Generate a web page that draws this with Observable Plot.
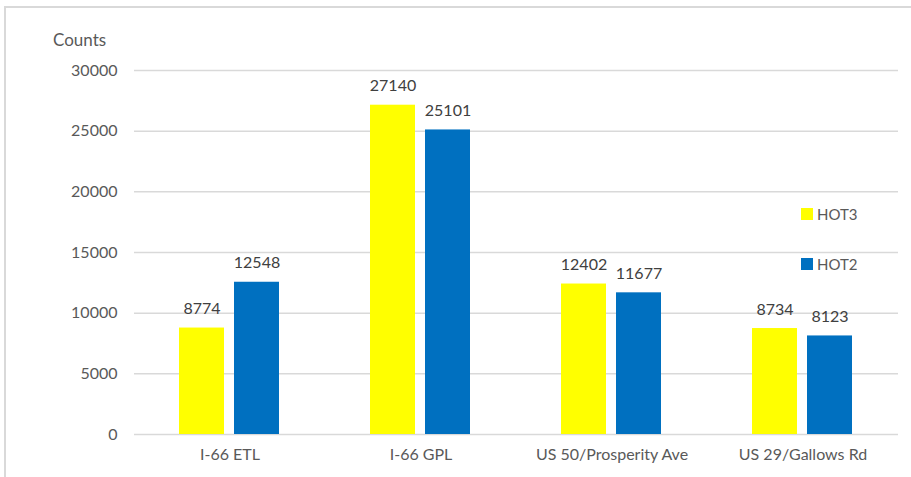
<!DOCTYPE html>
<html>
<head>
<meta charset="utf-8">
<script src="https://cdn.jsdelivr.net/npm/d3@7"></script>
<script src="https://cdn.jsdelivr.net/npm/@observablehq/plot@0.6"></script>
<style>
  html, body { margin: 0; padding: 0; background: #fff; }
  #wrap { position: relative; width: 911px; height: 477px; overflow: hidden; font-family: Lato, "Open Sans", sans-serif; }
  #frame { position: absolute; left: 4px; top: 6px; width: 920px; height: 480px; border-top: 2px solid #d9d9d9; border-left: 2px solid #d9d9d9; box-sizing: border-box; }
  #ylabel { position: absolute; left: 53px; top: 29px; font-size: 17px; color: #595959; }
  .leg { position: absolute; left: 801px; font-size: 15px; line-height: 18px; color: #595959; display: flex; align-items: center; }
  .sw { width: 12px; height: 12px; margin-right: 4px; }
  svg { position: absolute; left: 0; top: 0; }
</style>
</head>
<body>
<div id="wrap">
  <div id="frame"></div>
  <div id="chart"></div>
  <div id="ylabel">Counts</div>
  <div id="legend"></div>
</div>
<script>
const categories = ["I-66 ETL", "I-66 GPL", "US 50/Prosperity Ave", "US 29/Gallows Rd"];
const seriesNames = ["HOT3", "HOT2"];
const hot3 = [8774, 27140, 12402, 8734];
const hot2 = [12548, 25101, 11677, 8123];
const yTicks = [0, 5000, 10000, 15000, 20000, 25000, 30000];
const colors = ["#FFFF00", "#0070C0"];

const data = [];
categories.forEach((c, i) => {
  data.push({cat: c, series: "HOT3", value: hot3[i]});
  data.push({cat: c, series: "HOT2", value: hot2[i]});
});

const chart = Plot.plot({
  width: 911,
  height: 477,
  marginLeft: 134,
  marginRight: 13,
  marginTop: 70,
  marginBottom: 43,
  style: {fontSize: "16px", fontFamily: "Lato, 'Open Sans', sans-serif", color: "#595959", background: "transparent"},
  fx: {domain: categories, padding: 0, label: null, axis: "bottom", tickSize: 0, tickPadding: 14},
  x: {domain: seriesNames, paddingInner: 0.1818, paddingOuter: 0.825, axis: null},
  y: {domain: [0, 30000], ticks: yTicks, tickSize: 0, tickPadding: 17, label: null, tickFormat: d => String(d)},
  color: {domain: seriesNames, range: colors},
  marks: [
    Plot.gridY(yTicks, {stroke: "#d9d9d9", strokeOpacity: 1, strokeWidth: 1.5}),
    Plot.barY(data, {fx: "cat", x: "series", y: "value", fill: "series"}),
    Plot.text(data, {fx: "cat", x: "series", y: "value", text: d => String(d.value), dy: -19, fill: "#404040", fontSize: 16})
  ]
});
document.getElementById("chart").appendChild(chart);

const legend = document.getElementById("legend");
const legendTops = [205, 255];
seriesNames.forEach((s, i) => {
  const el = document.createElement("div");
  el.className = "leg";
  el.style.top = legendTops[i] + "px";
  el.innerHTML = `<div class="sw" style="background:${colors[i]}"></div><span>${s}</span>`;
  legend.appendChild(el);
});
</script>
</body>
</html>
